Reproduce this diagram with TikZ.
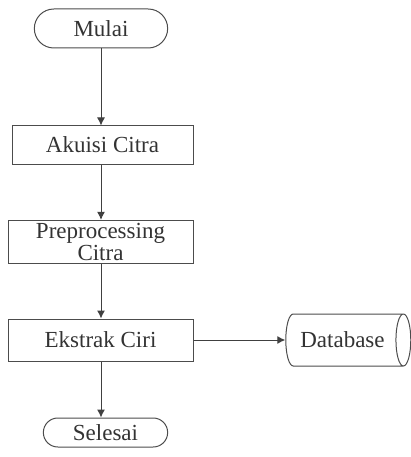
\documentclass[tikz,border=0pt]{standalone}
\usepackage{fontspec}
\setmainfont{Liberation Serif}
\usetikzlibrary{
	shapes.geometric,   %cylinder
	shapes.misc,        %rounded rectangle
	positioning,
	arrows.meta
}
\tikzstyle{terminal}=[rounded rectangle,draw=black!70,line width=1pt]
\tikzstyle{proses}=[rectangle,draw=black!70,line width=1pt,
minimum width=181pt,minimum height=38pt,align=center]
\tikzstyle{basisdata}=[cylinder,draw=black!70,line width=1pt,
aspect=0.65,minimum width=52pt,minimum height=125pt]
\tikzstyle{alur}=[->,line width=1pt,black!75]
\tikzset{
	every picture/.style={
		>={Latex[length=8pt,width=8pt]},
		x=1pt,y=-1pt
}}

\begin{document}
\begin{tikzpicture}[font=\fontsize{23}{20}\selectfont,text=black!80]
\useasboundingbox (0,0) rectangle (411,457);
%terminal awal dan akhir
\node[terminal,minimum width=140pt,minimum height=39pt] (mulai) at (101,28.5) {Mulai};
\node[terminal,minimum width=131pt,minimum height=29pt] (selesai) at (105.5,432.5) {Selesai};
%proses
\node[proses] (akuisi) at (102.5,145) {Akuisi Citra};
\node[proses,minimum width=185pt,minimum height=40pt] (prepro) at (100.5,242) {Preprocessing\\Citra};
\node[proses,minimum width=185pt,minimum height=42pt] (ekstrak) at (100.5,340) {Ekstrak Ciri};
%basis data
\node[basisdata] (db) at (342.5,340) {Database};
%alur
\draw[alur] (mulai.south) -- (mulai.south |- akuisi.north);
\draw[alur] (akuisi.south -| mulai.south) -- (mulai.south |- prepro.north);
\draw[alur] (prepro.south -| mulai.south) -- (mulai.south |- ekstrak.north);
\draw[alur] (ekstrak.south -| mulai.south) -- (mulai.south |- selesai.north);
\draw[alur] (ekstrak) -- (db);
\end{tikzpicture}
\end{document}
